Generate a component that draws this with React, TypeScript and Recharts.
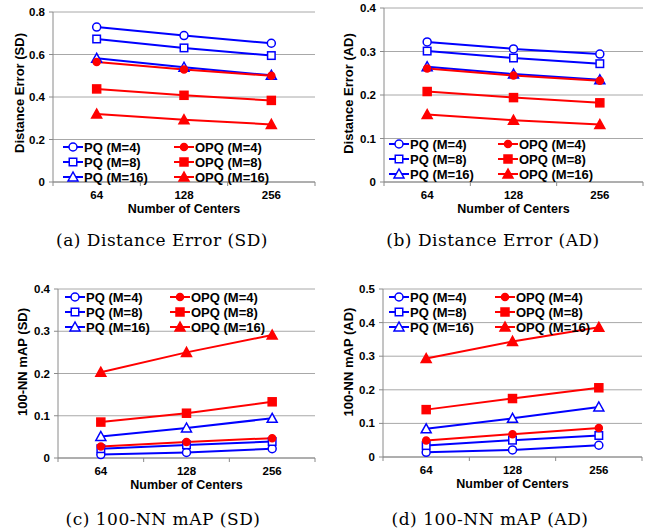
import React from "react";
import {
  LineChart,
  Line,
  XAxis,
  YAxis,
  CartesianGrid,
  Legend,
} from "recharts";

const centers = ["64", "128", "256"];
const seriesNames = [
  "PQ (M=4)",
  "PQ (M=8)",
  "PQ (M=16)",
  "OPQ (M=4)",
  "OPQ (M=8)",
  "OPQ (M=16)",
];

// rows follow seriesNames, columns follow centers
const distErrorSD = [
  [0.729, 0.689, 0.653],
  [0.673, 0.631, 0.595],
  [0.582, 0.54, 0.502],
  [0.565, 0.529, 0.5],
  [0.438, 0.408, 0.384],
  [0.32, 0.293, 0.271],
];
const distErrorAD = [
  [0.322, 0.306, 0.294],
  [0.301, 0.285, 0.272],
  [0.265, 0.248, 0.235],
  [0.261, 0.245, 0.233],
  [0.208, 0.194, 0.182],
  [0.155, 0.142, 0.132],
];
const mapSD = [
  [0.008, 0.013, 0.022],
  [0.022, 0.031, 0.039],
  [0.051, 0.071, 0.094],
  [0.027, 0.038, 0.047],
  [0.085, 0.106, 0.133],
  [0.203, 0.25, 0.291],
];
const mapAD = [
  [0.014, 0.021, 0.035],
  [0.034, 0.05, 0.064],
  [0.084, 0.115, 0.149],
  [0.049, 0.068, 0.086],
  [0.141, 0.174, 0.206],
  [0.293, 0.344, 0.386],
];

const ticksErrSD = [0, 0.2, 0.4, 0.6, 0.8];
const ticksErrAD = [0, 0.1, 0.2, 0.3, 0.4];
const ticksMapSD = [0, 0.1, 0.2, 0.3, 0.4];
const ticksMapAD = [0, 0.1, 0.2, 0.3, 0.4, 0.5];

const BLUE = "#0000ff";
const RED = "#ff0000";
const GRID = "#a8a8a8";
const AXIS = "#8a8a8a";
const SANS = "'Liberation Sans', Arial, sans-serif";

function Marker({ cx, cy, index, color }: any) {
  const shape = index % 3;
  const filled = index >= 3;
  const fill = filled ? color : "#fff";
  if (shape === 0) {
    return (
      <circle
        cx={cx}
        cy={cy}
        r={filled ? 3.5 : 4}
        fill={fill}
        stroke={color}
        strokeWidth={1.5}
      />
    );
  }
  if (shape === 1) {
    const s = filled ? 8 : 7.5;
    return (
      <rect
        x={cx - s / 2}
        y={cy - s / 2}
        width={s}
        height={s}
        fill={fill}
        stroke={color}
        strokeWidth={1.5}
      />
    );
  }
  return (
    <polygon
      points={`${cx},${cy - 5} ${cx - 5},${cy + 4} ${cx + 5},${cy + 4}`}
      fill={fill}
      stroke={color}
      strokeWidth={1.5}
    />
  );
}

function GridLegend({ payload, colWidth }: any) {
  const items = seriesNames
    .map((n) => (payload || []).find((p: any) => p.value === n))
    .filter(Boolean);
  return (
    <div
      style={{
        display: "grid",
        gridTemplateColumns: `${colWidth}px auto`,
        gridTemplateRows: "repeat(3, 15px)",
        gridAutoFlow: "column",
        fontFamily: SANS,
      }}
    >
      {items.map((it: any) => {
        const i = seriesNames.indexOf(it.value);
        return (
          <div
            key={it.value}
            style={{ display: "flex", alignItems: "center", whiteSpace: "nowrap" }}
          >
            <svg width={20} height={12} style={{ overflow: "visible" }}>
              <line x1={0} x2={20} y1={6} y2={6} stroke={it.color} strokeWidth={2} />
              <Marker cx={10} cy={6} index={i} color={it.color} />
            </svg>
            <span
              style={{
                fontSize: 13,
                fontWeight: "bold",
                marginLeft: 1,
                lineHeight: "15px",
              }}
            >
              {it.value}
            </span>
          </div>
        );
      })}
    </div>
  );
}

function CenterTick(props: any) {
  const { x, y, payload, index, visibleTicksCount, pad } = props;
  return (
    <g>
      <line x1={x - pad} x2={x - pad} y1={y} y2={y + 4} stroke={AXIS} />
      {index === visibleTicksCount - 1 && (
        <line x1={x + pad} x2={x + pad} y1={y} y2={y + 4} stroke={AXIS} />
      )}
      <text
        x={x}
        y={y + 13}
        textAnchor="middle"
        dominantBaseline="central"
        fontSize={11.5}
        fontWeight="bold"
        fill="#000"
      >
        {payload.value}
      </text>
    </g>
  );
}

function Panel({
  values,
  ticks,
  yLabel,
  caption,
  left,
  top,
  width,
  plot,
  yLabelX,
  yLabelShift,
  titleDy,
  legend,
  captionAt,
}: any) {
  const data = centers.map((c, i) => {
    const row: any = { centers: c };
    values.forEach((s: number[], k: number) => {
      row[`s${k}`] = s[i];
    });
    return row;
  });
  const height = plot.b - top + 40;
  const plotW = plot.r - plot.l;
  const pad = plotW / centers.length / 2;

  return (
    <>
      <div style={{ position: "absolute", left, top }}>
        <LineChart
          width={width}
          height={height}
          data={data}
          margin={{ top: plot.t - top, right: left + width - plot.r, bottom: 0, left: 0 }}
        >
          <CartesianGrid vertical={false} stroke={GRID} />
          <XAxis
            dataKey="centers"
            padding={{ left: pad, right: pad }}
            height={40}
            tickSize={0}
            tickMargin={0}
            tickLine={false}
            axisLine={{ stroke: AXIS }}
            tick={<CenterTick pad={pad} />}
            label={(lp: any) => {
              const vb = lp.viewBox || {};
              return (
                <text
                  x={vb.x + vb.width / 2}
                  y={vb.y + titleDy}
                  textAnchor="middle"
                  dominantBaseline="central"
                  fontSize={12.5}
                  fontWeight="bold"
                  fill="#000"
                >
                  Number of Centers
                </text>
              );
            }}
          />
          <YAxis
            width={plot.l - left}
            domain={[ticks[0], ticks[ticks.length - 1]]}
            ticks={ticks}
            interval={0}
            tickSize={4}
            tickMargin={4}
            tickLine={{ stroke: AXIS }}
            axisLine={{ stroke: AXIS }}
            tick={{ fontSize: 11.5, fontWeight: "bold", fill: "#000" }}
            label={(lp: any) => {
              const vb = lp.viewBox || {};
              const lx = yLabelX - left;
              const ly = vb.y + vb.height / 2 + yLabelShift;
              return (
                <text
                  x={lx}
                  y={ly}
                  transform={`rotate(-90 ${lx} ${ly})`}
                  textAnchor="middle"
                  dominantBaseline="central"
                  fontSize={13}
                  fontWeight="bold"
                  fill="#000"
                >
                  {yLabel}
                </text>
              );
            }}
          />
          <Legend
            layout="vertical"
            align="center"
            verticalAlign="middle"
            wrapperStyle={{ left: legend.left - left, top: legend.top - top }}
            content={<GridLegend colWidth={legend.col} />}
          />
          {seriesNames.map((name, i) => {
            const color = i < 3 ? BLUE : RED;
            return (
              <Line
                key={name}
                dataKey={`s${i}`}
                name={name}
                stroke={color}
                strokeWidth={2}
                activeDot={false}
                isAnimationActive={false}
                dot={(p: any) => (
                  <Marker
                    key={`${name}-${p.index}`}
                    cx={p.cx}
                    cy={p.cy}
                    index={i}
                    color={color}
                  />
                )}
              />
            );
          })}
        </LineChart>
      </div>
      <div
        style={{
          position: "absolute",
          left: captionAt.x - 165,
          top: captionAt.y - 12,
          width: 330,
          height: 24,
          lineHeight: "24px",
          textAlign: "center",
          fontFamily: "'DejaVu Serif', serif",
          fontSize: 17,
          letterSpacing: 0.5,
          whiteSpace: "nowrap",
        }}
      >
        {caption}
      </div>
    </>
  );
}

export default function App() {
  return (
    <div
      style={{
        position: "absolute",
        left: 0,
        top: 0,
        width: 659,
        height: 529,
        background: "#fff",
        fontFamily: SANS,
      }}
    >
      <Panel
        values={distErrorSD}
        ticks={ticksErrSD}
        yLabel="Distance Error (SD)"
        caption="(a) Distance Error (SD)"
        left={0}
        top={0}
        width={330}
        plot={{ l: 53, r: 315, t: 12, b: 182 }}
        yLabelX={19}
        yLabelShift={-4}
        titleDy={27}
        legend={{ left: 63, top: 139.5, col: 111 }}
        captionAt={{ x: 162, y: 240 }}
      />
      <Panel
        values={distErrorAD}
        ticks={ticksErrAD}
        yLabel="Distance Error (AD)"
        caption="(b) Distance Error (AD)"
        left={330}
        top={0}
        width={329}
        plot={{ l: 384, r: 643, t: 8, b: 182 }}
        yLabelX={348}
        yLabelShift={-1.5}
        titleDy={27}
        legend={{ left: 389, top: 136.5, col: 109 }}
        captionAt={{ x: 493, y: 240 }}
      />
      <Panel
        values={mapSD}
        ticks={ticksMapSD}
        yLabel="100-NN mAP (SD)"
        caption="(c) 100-NN mAP (SD)"
        left={0}
        top={265}
        width={330}
        plot={{ l: 58, r: 315, t: 289, b: 458 }}
        yLabelX={22}
        yLabelShift={-11.5}
        titleDy={27}
        legend={{ left: 65, top: 289.5, col: 105 }}
        captionAt={{ x: 163, y: 519 }}
      />
      <Panel
        values={mapAD}
        ticks={ticksMapAD}
        yLabel="100-NN mAP (AD)"
        caption="(d) 100-NN mAP (AD)"
        left={330}
        top={265}
        width={329}
        plot={{ l: 383, r: 642, t: 289, b: 457 }}
        yLabelX={348}
        yLabelShift={-11}
        titleDy={27}
        legend={{ left: 389, top: 289.5, col: 106 }}
        captionAt={{ x: 490, y: 519 }}
      />
    </div>
  );
}
